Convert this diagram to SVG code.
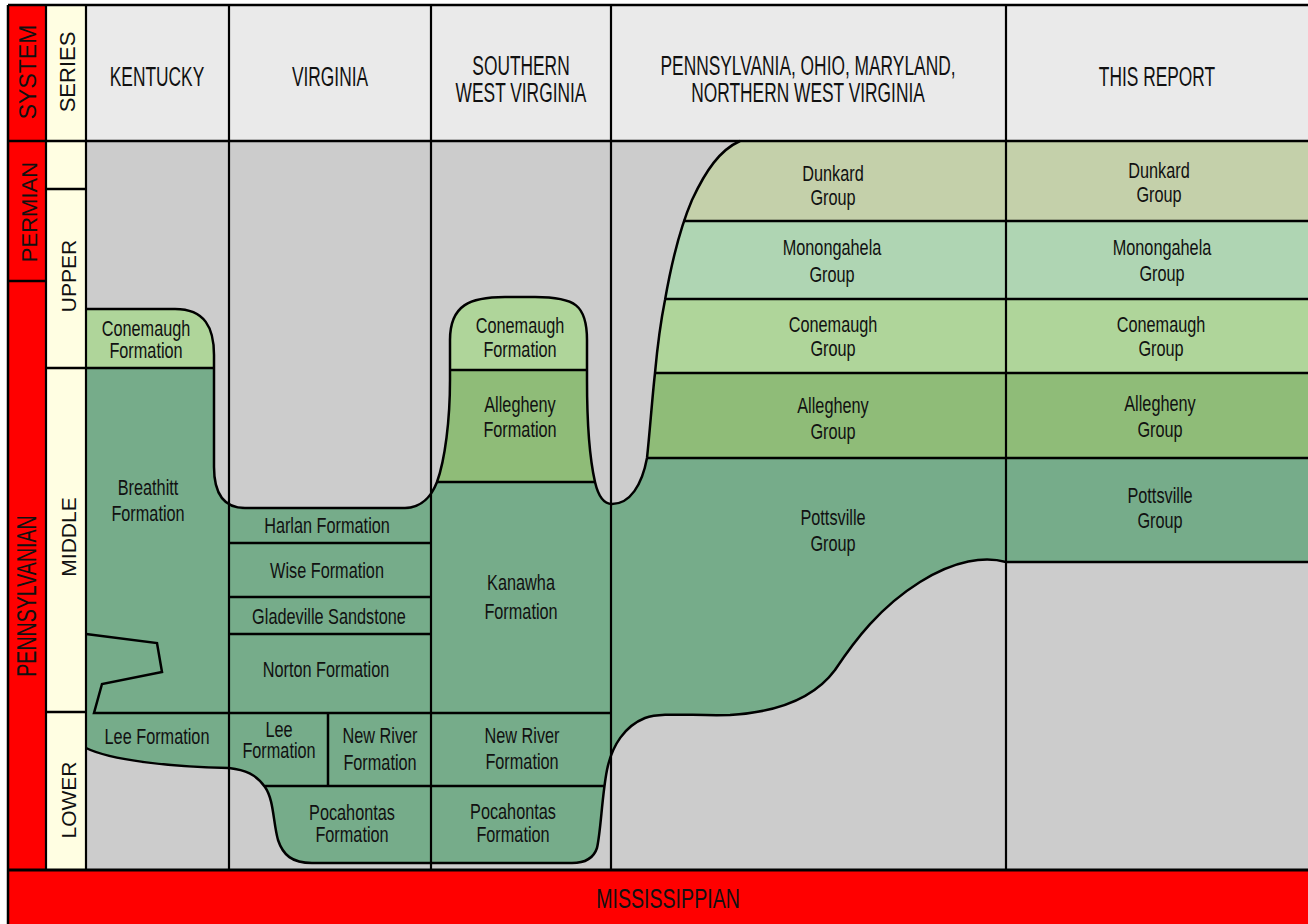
<svg xmlns="http://www.w3.org/2000/svg" width="1308" height="924" viewBox="0 0 1308 924">
<style>
text{font-family:"Liberation Sans",Arial,sans-serif;fill:#111;text-anchor:middle}
.h{font-size:28px}
.b{font-size:22px}
.l{font-size:22px}
.s{font-size:21px}
.big{font-size:28px}
.ln{fill:none;stroke:#000;stroke-width:2.5}
.thin{fill:none;stroke:#000;stroke-width:2.2}
.red{fill:#FF0000}
.cream{fill:#FFFEE2}
.hdr{fill:#EAEAEA}
.gray{fill:#CCCCCC}
.teal{fill:#76AC8A}
.alle{fill:#8FBC78}
.cone{fill:#AFD59A}
.mono{fill:#AFD5B3}
.dunk{fill:#C4D0AA}
</style>
<defs>
<clipPath id="paClip">
<path d="M 740 141 H 1308 V 462 H 646 C 647 460 647 459 647 458 C 650 430 652 400 655 373 C 658 340 661 320 665 300 C 672 260 680 228 692 200 C 706 170 720 150 740 141 Z"/>
</clipPath>
</defs>

<g id="background">
<rect class="hdr" x="86" y="5" width="1222" height="136"/>
<rect class="gray" x="86" y="141" width="1222" height="729"/>
<rect class="red" x="8" y="5" width="38" height="865"/>
<rect class="cream" x="46" y="5" width="40" height="865"/>
<rect class="red" x="8" y="870" width="1300" height="54"/>
</g>

<g id="lower-pennsylvanian-units">
<path class="teal" d="M 86 368 H 214 V 467 C 214 495 225 508 245 508 H 405 C 422 508 432 495 437 482 H 595 C 598 495 603 504 612 504 C 630 504 642 485 647 458 H 1308 V 562 H 1006 C 985 556 955 560 920 582 C 880 607 855 640 835 670 C 815 697 780 712 730 715 C 690 716 662 712 645 718 C 625 726 612 745 607 770 C 602 795 601 830 597 848 C 593 860 583 863 572 863 H 312 C 292 863 283 855 278 840 C 273 822 274 800 265 787 C 256 774 245 770 229 768 C 170 767 110 760 86 748 Z"/>
</g>

<g id="ky-conemaugh">
<path class="cone" d="M 86 368 V 309 H 175 C 205 309 214 328 214 355 V 368 Z"/>
<text class="b" transform="translate(146 0) scale(0.74 1)"><tspan x="0" y="336">Conemaugh</tspan><tspan x="0" y="358">Formation</tspan></text>
</g>

<g id="swv-allegheny">
<path class="alle" d="M 437 482 C 445 460 450 420 450 380 V 340 C 450 305 470 297 505 297 H 535 C 575 297 587 305 587 340 V 380 C 587 420 590 460 595 482 Z"/>
<text class="b" transform="translate(520 0) scale(0.74 1)"><tspan x="0" y="412">Allegheny</tspan><tspan x="0" y="437">Formation</tspan></text>
</g>

<g id="swv-conemaugh">
<path class="cone" d="M 450 370 V 340 C 450 305 470 297 505 297 H 535 C 575 297 587 305 587 340 V 370 Z"/>
<text class="b" transform="translate(520 0) scale(0.74 1)"><tspan x="0" y="333">Conemaugh</tspan><tspan x="0" y="357">Formation</tspan></text>
</g>

<g id="pa-bands" clip-path="url(#paClip)">
<rect class="dunk" x="611" y="141" width="697" height="80"/>
<rect class="mono" x="611" y="221" width="697" height="78"/>
<rect class="cone" x="611" y="299" width="697" height="74"/>
<rect class="alle" x="611" y="373" width="697" height="85"/>
</g>

<g id="connectors">
<path class="ln" d="M 8 5 H 1308 M 8 5 V 924 M 8 141 H 1308"/>
<path class="thin" d="M 46 5 V 870 M 86 5 V 870 M 229 5 V 870 M 431 5 V 870 M 611 5 V 870 M 1006 5 V 870"/>
<path class="ln" d="M 8 870 H 1308" style="stroke-width:3"/>
<path class="ln" d="M 8 281 H 46 M 46 189 H 86 M 46 368 H 86 M 46 712 H 86"/>
<path class="ln" d="M 86 309 H 175 C 205 309 214 328 214 355 V 467 C 214 495 225 508 245 508 H 405 C 422 508 432 495 437 482 C 445 460 450 420 450 380 V 340 C 450 305 470 297 505 297 H 535 C 575 297 587 305 587 340 V 380 C 587 420 590 460 595 482 C 598 495 603 504 612 504 C 630 504 642 485 647 458 C 650 430 652 400 655 373 C 658 340 661 320 665 300 C 672 260 680 228 692 200 C 706 170 720 150 740 141"/>
<path class="ln" d="M 1006 562 C 985 556 955 560 920 582 C 880 607 855 640 835 670 C 815 697 780 712 730 715 C 690 716 662 712 645 718 C 625 726 612 745 607 770 C 602 795 601 830 597 848 C 593 860 583 863 572 863 H 312 C 292 863 283 855 278 840 C 273 822 274 800 265 787 C 256 774 245 770 229 768 C 170 767 110 760 86 748"/>
<path class="ln" d="M 86 368 H 214 M 86 634 L 157 643 L 162 672 L 102 684 L 94 713 H 611"/>
<path class="ln" d="M 229 543 H 431 M 229 597 H 431 M 229 634 H 431 M 328 713 V 786 M 265 786 H 604"/>
<path class="ln" d="M 450 370 H 587 M 437 482 H 595"/>
<path class="ln" d="M 683 221 H 1308 M 665 299 H 1308 M 655 373 H 1308 M 647 458 H 1308 M 1006 562 H 1308"/>
</g>

<g id="header">
<g transform="translate(36 72) rotate(-90)"><text class="l" x="0" y="0" style="font-size:23px">SYSTEM</text></g>
<g transform="translate(75 72) rotate(-90)"><text class="l" x="0" y="0">SERIES</text></g>
<text class="h" transform="translate(157 0) scale(0.62 1)" x="0" y="86">KENTUCKY</text>
<text class="h" transform="translate(330 0) scale(0.62 1)" x="0" y="86">VIRGINIA</text>
<text class="h" transform="translate(521 0) scale(0.62 1)"><tspan x="0" y="75">SOUTHERN</tspan><tspan x="0" y="102">WEST VIRGINIA</tspan></text>
<text class="h" transform="translate(808 0) scale(0.62 1)"><tspan x="0" y="75">PENNSYLVANIA, OHIO, MARYLAND,</tspan><tspan x="0" y="102">NORTHERN WEST VIRGINIA</tspan></text>
<text class="h" transform="translate(1157 0) scale(0.62 1)" x="0" y="86">THIS REPORT</text>
</g>

<g id="systems-series">
<g transform="translate(37 212) rotate(-90)"><text class="l" x="0" y="0">PERMIAN</text></g>
<g transform="translate(36 596) rotate(-90)"><text class="big" transform="scale(0.7 1)" x="0" y="0">PENNSYLVANIAN</text></g>
<g transform="translate(76 276) rotate(-90)"><text class="s" x="0" y="0">UPPER</text></g>
<g transform="translate(76 537) rotate(-90)"><text class="s" x="0" y="0">MIDDLE</text></g>
<g transform="translate(76 800) rotate(-90)"><text class="s" x="0" y="0">LOWER</text></g>
<text class="big" transform="translate(668 0) scale(0.7 1)" x="0" y="908">MISSISSIPPIAN</text>
</g>

<g id="ky-breathitt"><text class="b" transform="translate(148 0) scale(0.74 1)"><tspan x="0" y="495">Breathitt</tspan><tspan x="0" y="521">Formation</tspan></text></g>
<g id="ky-lee"><text class="b" transform="translate(157 0) scale(0.74 1)" x="0" y="744">Lee Formation</text></g>
<g id="va-harlan"><text class="b" transform="translate(327 0) scale(0.74 1)" x="0" y="533">Harlan Formation</text></g>
<g id="va-wise"><text class="b" transform="translate(327 0) scale(0.74 1)" x="0" y="578">Wise Formation</text></g>
<g id="va-gladeville"><text class="b" transform="translate(329 0) scale(0.74 1)" x="0" y="624">Gladeville Sandstone</text></g>
<g id="va-norton"><text class="b" transform="translate(326 0) scale(0.74 1)" x="0" y="677">Norton Formation</text></g>
<g id="va-lee"><text class="b" transform="translate(279 0) scale(0.74 1)"><tspan x="0" y="737">Lee</tspan><tspan x="0" y="758">Formation</tspan></text></g>
<g id="va-newriver"><text class="b" transform="translate(380 0) scale(0.74 1)"><tspan x="0" y="743">New River</tspan><tspan x="0" y="770">Formation</tspan></text></g>
<g id="va-pocahontas"><text class="b" transform="translate(352 0) scale(0.74 1)"><tspan x="0" y="820">Pocahontas</tspan><tspan x="0" y="842">Formation</tspan></text></g>
<g id="swv-kanawha"><text class="b" transform="translate(521 0) scale(0.74 1)"><tspan x="0" y="590">Kanawha</tspan><tspan x="0" y="619">Formation</tspan></text></g>
<g id="swv-newriver"><text class="b" transform="translate(522 0) scale(0.74 1)"><tspan x="0" y="743">New River</tspan><tspan x="0" y="769">Formation</tspan></text></g>
<g id="swv-pocahontas"><text class="b" transform="translate(513 0) scale(0.74 1)"><tspan x="0" y="819">Pocahontas</tspan><tspan x="0" y="842">Formation</tspan></text></g>
<g id="pa-dunkard"><text class="b" transform="translate(833 0) scale(0.74 1)"><tspan x="0" y="181">Dunkard</tspan><tspan x="0" y="205">Group</tspan></text></g>
<g id="pa-monongahela"><text class="b" transform="translate(832 0) scale(0.74 1)"><tspan x="0" y="255">Monongahela</tspan><tspan x="0" y="282">Group</tspan></text></g>
<g id="pa-conemaugh"><text class="b" transform="translate(833 0) scale(0.74 1)"><tspan x="0" y="332">Conemaugh</tspan><tspan x="0" y="356">Group</tspan></text></g>
<g id="pa-allegheny"><text class="b" transform="translate(833 0) scale(0.74 1)"><tspan x="0" y="413">Allegheny</tspan><tspan x="0" y="439">Group</tspan></text></g>
<g id="pa-pottsville"><text class="b" transform="translate(833 0) scale(0.74 1)"><tspan x="0" y="525">Pottsville</tspan><tspan x="0" y="551">Group</tspan></text></g>
<g id="tr-dunkard"><text class="b" transform="translate(1159 0) scale(0.74 1)"><tspan x="0" y="178">Dunkard</tspan><tspan x="0" y="202">Group</tspan></text></g>
<g id="tr-monongahela"><text class="b" transform="translate(1162 0) scale(0.74 1)"><tspan x="0" y="255">Monongahela</tspan><tspan x="0" y="281">Group</tspan></text></g>
<g id="tr-conemaugh"><text class="b" transform="translate(1161 0) scale(0.74 1)"><tspan x="0" y="332">Conemaugh</tspan><tspan x="0" y="356">Group</tspan></text></g>
<g id="tr-allegheny"><text class="b" transform="translate(1160 0) scale(0.74 1)"><tspan x="0" y="411">Allegheny</tspan><tspan x="0" y="437">Group</tspan></text></g>
<g id="tr-pottsville"><text class="b" transform="translate(1160 0) scale(0.74 1)"><tspan x="0" y="503">Pottsville</tspan><tspan x="0" y="528">Group</tspan></text></g>
</svg>
